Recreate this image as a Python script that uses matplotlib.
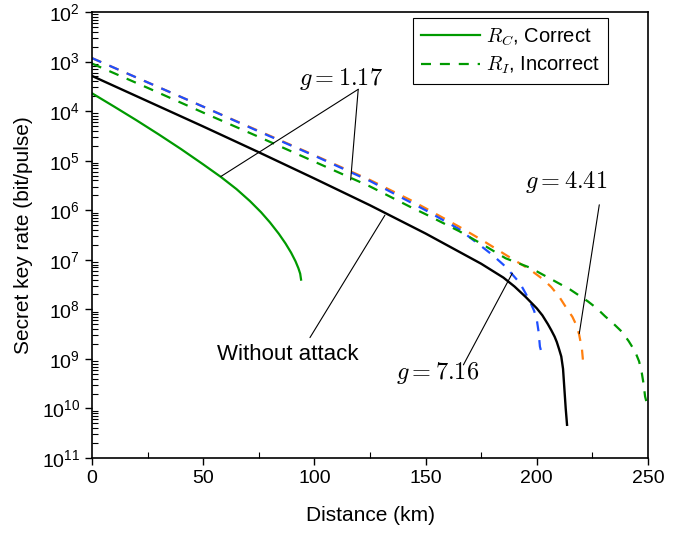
import numpy as np
import matplotlib.pyplot as plt
from matplotlib.ticker import FixedLocator, MultipleLocator, NullFormatter

plt.rcParams['font.family'] = ['Liberation Sans Narrow', 'Liberation Sans', 'DejaVu Sans']
plt.rcParams['mathtext.fontset'] = 'cm'

# Without attack (black)
d_none = [0, 25, 50, 75, 100, 125, 150, 175, 180, 185, 190, 195, 200, 202.5, 205, 206.5, 208,
          209, 210, 211, 211.8, 212.4, 213, 213.6]
log_none = [-3.29, -3.80, -4.31, -4.83, -5.36, -5.90, -6.47, -7.08, -7.22, -7.36, -7.54, -7.75,
            -7.98, -8.12, -8.30, -8.42, -8.55, -8.66, -8.80, -8.95, -9.20, -9.60, -10.0, -10.33]

# R_C, correct (green solid)
d_rc = [0, 10, 20, 30, 40, 50, 58, 65, 71, 76, 80, 84, 87, 89.5, 91.5, 92.8, 93.6, 94]
log_rc = [-3.64, -3.91, -4.185, -4.47, -4.765, -5.075, -5.33, -5.575, -5.815, -6.04, -6.245,
          -6.475, -6.67, -6.855, -7.03, -7.17, -7.28, -7.40]

# R_I, incorrect, g = 1.17 (green dashed)
d_g117 = [0, 25, 50, 75, 100, 125, 143, 150, 165, 176, 186, 197, 206, 210.5, 215, 219, 223, 227,
          230.7, 234.5, 238.2, 241.3, 244.2, 246, 247.2, 248, 248.7, 249.8]
log_g117 = [-3.04, -3.53, -4.03, -4.52, -5.02, -5.52, -5.93, -6.08, -6.42, -6.70, -6.97, -7.16,
            -7.38, -7.49, -7.60, -7.72, -7.84, -7.98, -8.14, -8.29, -8.45, -8.64, -8.85, -9.05,
            -9.28, -9.50, -9.76, -9.95]

# g = 4.41 (orange dashed)
d_g441 = [0, 25, 50, 75, 100, 125, 143, 150, 165, 176, 186, 197, 203, 206.5, 210, 213, 216,
          217.8, 219, 220.3, 221]
log_g441 = [-2.93, -3.42, -3.91, -4.40, -4.89, -5.39, -5.79, -5.96, -6.33, -6.62, -6.90, -7.20,
            -7.40, -7.55, -7.74, -7.95, -8.15, -8.32, -8.50, -8.80, -9.15]

# g = 7.16 (blue dashed)
d_g716 = [0, 25, 50, 75, 100, 125, 150, 165, 176, 180, 185, 188.7, 192.4, 195, 197, 198.8, 200,
          200.8, 201.4, 202]
log_g716 = [-2.93, -3.42, -3.91, -4.41, -4.90, -5.41, -6.00, -6.38, -6.76, -6.90, -7.10, -7.28,
            -7.47, -7.68, -7.85, -8.03, -8.21, -8.45, -8.75, -8.85]

y_exps = list(range(-2, -12, -1))
y_labels = [r'$\mathregular{10^{%d}}$' % abs(e) for e in y_exps]

green = '#009a00'
orange = '#ff7f0e'
blue = '#1f4fff'

fig = plt.figure(figsize=(6.94, 5.34), dpi=100)
ax = fig.add_axes([0.1326, 0.1423, 0.8011, 0.8352])

dash = (4.5, 4)
ax.plot(d_g441, 10.0 ** np.array(log_g441), color=orange, lw=1.6, dashes=dash)
ax.plot(d_g716, 10.0 ** np.array(log_g716), color=blue, lw=1.6, dashes=dash)
ax.plot(d_g117, 10.0 ** np.array(log_g117), color=green, lw=1.6, dashes=dash, label=r'$R_I$, Incorrect')
ax.plot(d_none, 10.0 ** np.array(log_none), color='black', lw=1.7)
ax.plot(d_rc, 10.0 ** np.array(log_rc), color=green, lw=1.6, label=r'$R_C$, Correct')

ax.set_yscale('log')
ax.set_xlim(0, 250)
ax.set_ylim(1e-11, 1e-2)

# Axis ticks
ax.xaxis.set_major_locator(MultipleLocator(50))
ax.xaxis.set_minor_locator(MultipleLocator(25))
ax.yaxis.set_major_locator(FixedLocator([10.0 ** e for e in y_exps]))
ax.set_yticklabels(y_labels)
minor = [k * 10.0 ** e for e in range(-11, -2) for k in range(2, 10)]
ax.yaxis.set_minor_locator(FixedLocator(minor))
ax.yaxis.set_minor_formatter(NullFormatter())
ax.tick_params(which='major', direction='out', length=5, width=1, labelsize=14)
ax.tick_params(which='minor', direction='in', length=4, width=0.8)
for s in ax.spines.values():
    s.set_linewidth(1.2)

ax.set_xlabel('Distance (km)', fontsize=15, labelpad=14)
ax.set_ylabel('Secret key rate (bit/pulse)', fontsize=15, labelpad=6)

# Annotations
line_kw = dict(arrowstyle='-', lw=0.8, color='black', shrinkA=0, shrinkB=0)
ax.annotate('', xy=(57.9, 10 ** -5.32), xytext=(119.7, 10 ** -3.56), arrowprops=line_kw)
ax.annotate('', xy=(116.3, 10 ** -5.39), xytext=(119.7, 10 ** -3.56), arrowprops=line_kw)
ax.annotate('', xy=(131.7, 10 ** -6.10), xytext=(98, 10 ** -8.57), arrowprops=line_kw)
ax.annotate('', xy=(189, 10 ** -7.27), xytext=(167, 10 ** -9.12), arrowprops=line_kw)
ax.annotate('', xy=(219.1, 10 ** -8.49), xytext=(228.1, 10 ** -5.89), arrowprops=line_kw)

ax.text(112, 10 ** -3.35, r'$g = 1.17$', fontsize=17.5, ha='center', va='center')
ax.text(88, 10 ** -8.92, 'Without attack', fontsize=16, ha='center', va='center')
ax.text(155.3, 10 ** -9.28, r'$g = 7.16$', fontsize=17.5, ha='center', va='center')
ax.text(213.1, 10 ** -5.43, r'$g = 4.41$', fontsize=17.5, ha='center', va='center')

handles, labels = ax.get_legend_handles_labels()
leg = ax.legend(handles[::-1], labels[::-1], loc='upper right', bbox_to_anchor=(0.928, 0.9865),
                fontsize=14.5, frameon=True, fancybox=False, edgecolor='black', framealpha=1,
                handlelength=2.9, handletextpad=0.3, borderpad=0.4, labelspacing=0.35,
                borderaxespad=0)
leg.get_frame().set_linewidth(0.8)

fig.savefig('out.png', dpi=100)
